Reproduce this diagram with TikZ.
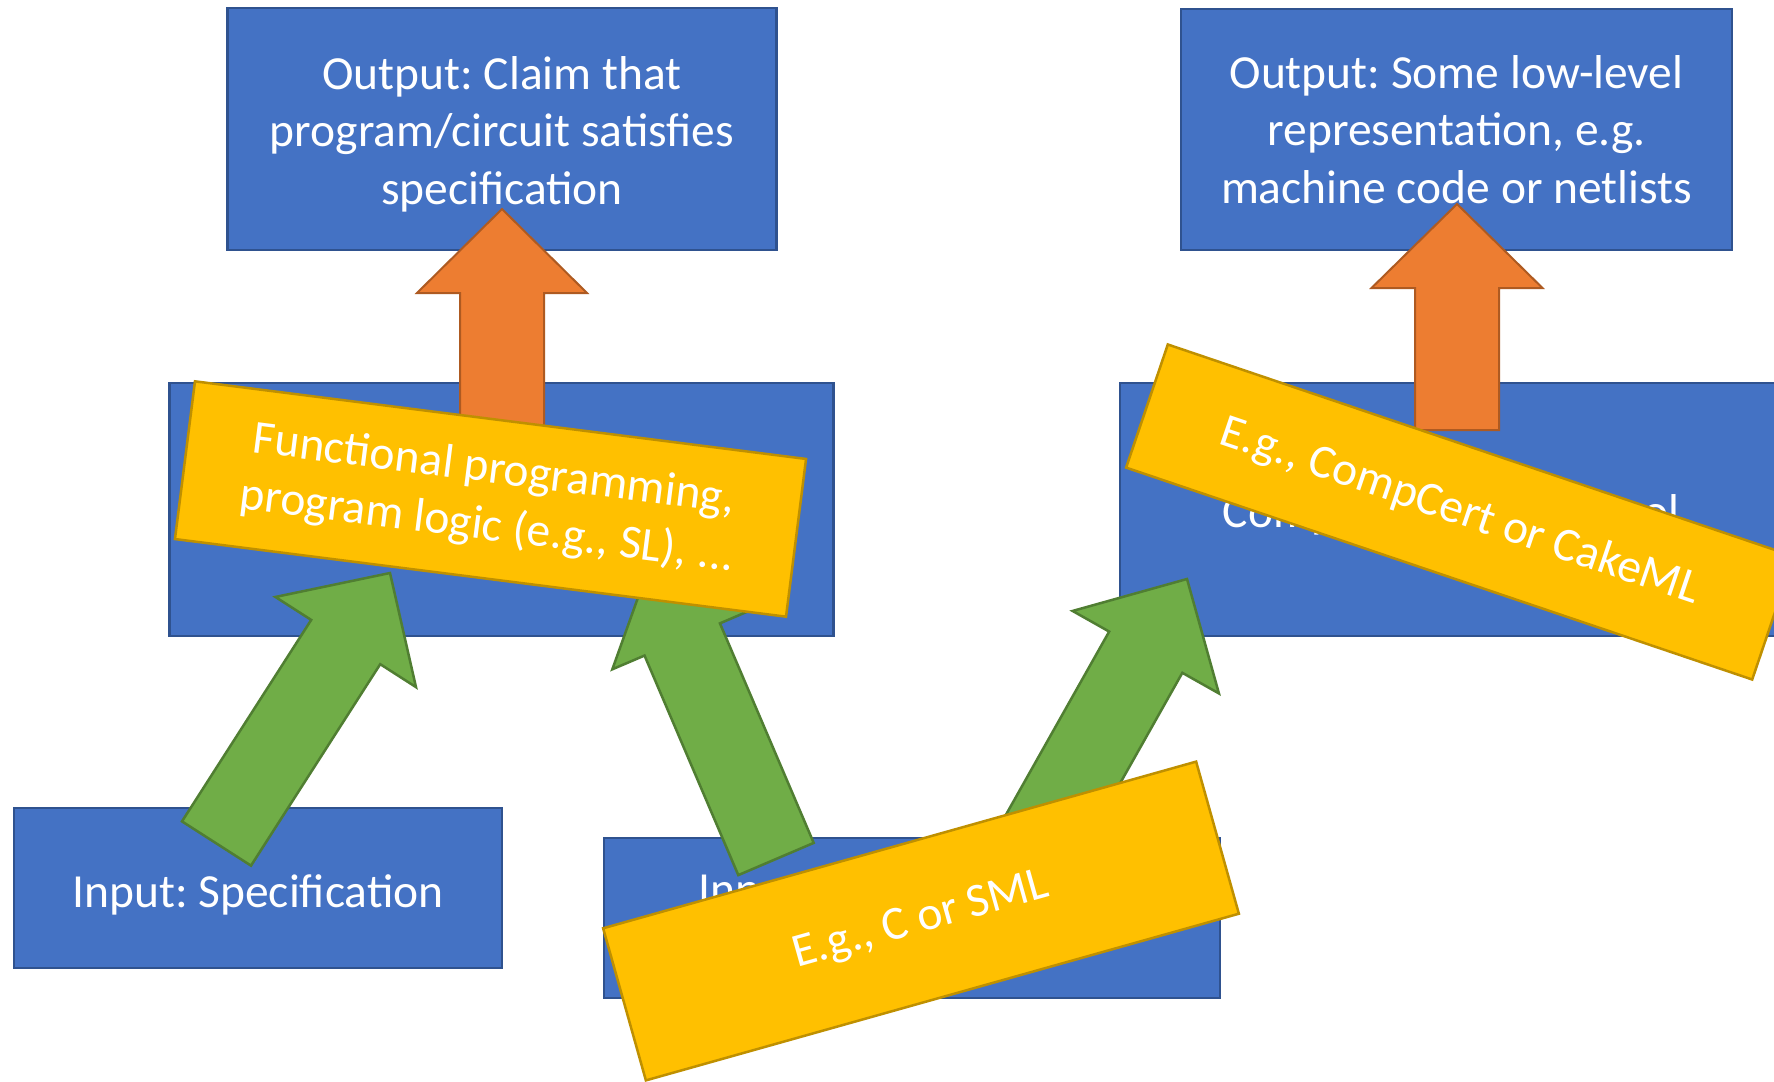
\documentclass[tikz,border=0pt]{standalone}
\usepackage{fontspec}
\setmainfont{Carlito}
\usetikzlibrary{calc}
\frenchspacing

\definecolor{boxblue}{HTML}{4472C4}
\definecolor{boxblueline}{HTML}{2F528F}
\definecolor{arrorange}{HTML}{ED7D31}
\definecolor{arrorangeline}{HTML}{AE5A21}
\definecolor{arrgreen}{HTML}{70AD47}
\definecolor{arrgreenline}{HTML}{507E32}
\definecolor{tagyellow}{HTML}{FFC000}
\definecolor{tagyellowline}{HTML}{BF9000}

% Block arrow from #2 (tail) to #3 (tip): #4 shaft width, #5 head width, #6 head length
\newcommand\blockarrow[6]{%
  \path[#1] let \p1=($(#3)-(#2)$), \n1={atan2(\y1,\x1)}, \n2={veclen(\x1,\y1)-#6} in
       ($(#2)+(\n1+90:#4/2)$)
    -- ($(#2)+(\n1:\n2)+(\n1+90:#4/2)$)
    -- ($(#2)+(\n1:\n2)+(\n1+90:#5/2)$)
    -- (#3)
    -- ($(#2)+(\n1:\n2)+(\n1-90:#5/2)$)
    -- ($(#2)+(\n1:\n2)+(\n1-90:#4/2)$)
    -- ($(#2)+(\n1-90:#4/2)$)
    -- cycle;}

\tikzset{
  bigtext/.style={font=\fontsize{47.5}{57.5}\selectfont, text=white, align=center},
  bluebox/.style={draw=boxblueline, fill=boxblue, line width=2.5pt, inner sep=0pt},
  boxtext/.style={bigtext, yshift=-5pt},
  tagbox/.style={bigtext, draw=tagyellowline, fill=tagyellow, line width=2.5pt, inner sep=0pt},
  orangearrow/.style={fill=arrorange, draw=arrorangeline, line width=2pt},
  greenarrow/.style={fill=arrgreen, draw=arrgreenline, line width=2.5pt},
}

\begin{document}
\begin{tikzpicture}[x=1pt,y=1pt]
\useasboundingbox (0,0) rectangle (1774,-1081);
\fill[white] (0,0) rectangle (1774,-1081);

% boxes
\node[bluebox, minimum width=549pt, minimum height=242pt] (outClaim) at (502,-129) {};
\node[bluebox, minimum width=551pt, minimum height=241pt] (outLow) at (1456.5,-129.5) {};
\node[bluebox, minimum width=664pt, minimum height=253pt] (verif) at (501.5,-509.5) {};
\node[bluebox, minimum width=668pt, minimum height=253pt] (compiler) at (1454,-509.5) {};
\node[bluebox, minimum width=488pt, minimum height=160pt] (inSpec) at (258,-888) {};
\node[bluebox, minimum width=616pt, minimum height=160pt] (inProg) at (912,-918) {};

% box texts
\node[boxtext] (outClaimText) at (outClaim.center)
  {Output: Claim that\\program/circuit satisfies\\specification};
\node[bigtext] (outLowText) at (outLow.center)
  {Output: Some low-level\\representation, e.g.\\machine code or netlists};
\node[boxtext, xshift=-3pt] (compilerText) at (compiler.center) {Compiler/synthesis tool};
\node[boxtext, yshift=-1.5pt] (inSpecText) at (inSpec.center) {Input: Specification};
\node[bigtext, anchor=base] (inProgText) at (912,-905) {Input: Program/circuit};

% arrow ends
\coordinate (claimTip) at (502,-209);
\coordinate (verifTail) at (502,-430);
\coordinate (lowTip) at (1457,-204);
\coordinate (compTail) at (1457,-430);
\coordinate (specTail) at (216.5,-843.5);
\coordinate (specTip) at (390,-573);
\coordinate (progTailL) at (776,-859);
\coordinate (progTipL) at (650,-564);
\coordinate (progTailR) at (1023,-870);
\coordinate (progTipR) at (1187,-579);

% outputs
\blockarrow{orangearrow}{verifTail}{claimTip}{84}{170}{84}
\blockarrow{orangearrow}{compTail}{lowTip}{84}{171}{84}

% inputs
\blockarrow{greenarrow}{specTail}{specTip}{82}{167}{82}
\blockarrow{greenarrow}{progTailL}{progTipL}{82}{152}{82}
\blockarrow{greenarrow}{progTailR}{progTipR}{84}{168}{84}

% example tags
\node[tagbox, minimum width=616pt, minimum height=159pt, rotate=-7.24] (fpTag) at (490.5,-499)
  {Functional programming,\\program logic (e.g., SL), ...};
\node[tagbox, minimum width=661pt, minimum height=130pt, rotate=-18.7] (ccTag) at (1460,-512)
  {E.g., CompCert or CakeML};
\node[tagbox, minimum width=616pt, minimum height=158pt, rotate=15.7] (cTag) at (921,-921)
  {E.g., C or SML};
\end{tikzpicture}
\end{document}
